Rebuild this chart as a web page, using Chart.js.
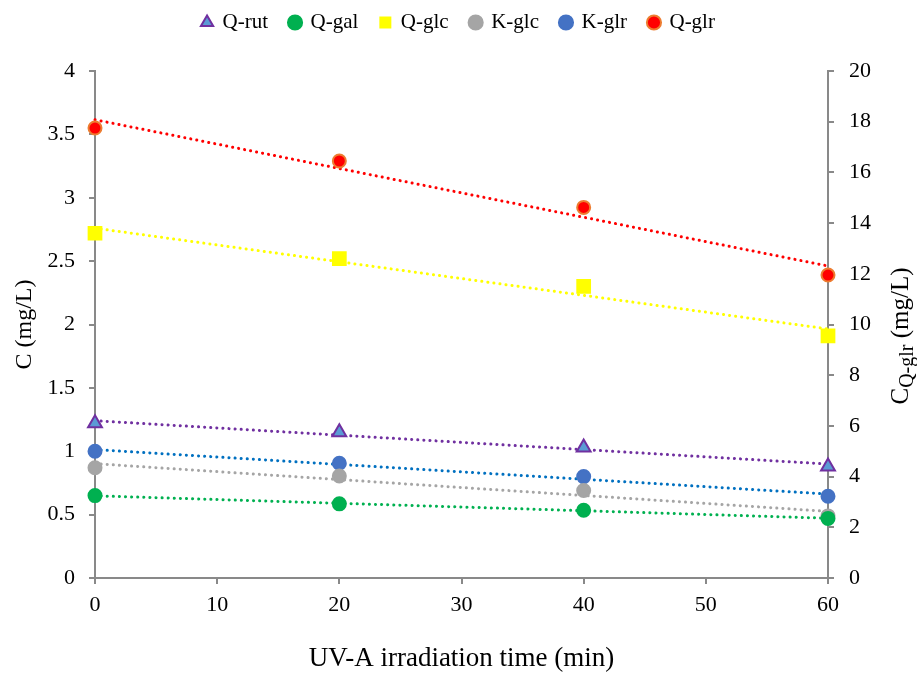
<!DOCTYPE html>
<html>
<head>
<meta charset="utf-8">
<script src="https://cdn.jsdelivr.net/npm/chart.js@4.4.0/dist/chart.umd.min.js"></script>
<style>
  html, body { margin: 0; padding: 0; background: #fff; }
  #wrap { width: 917px; height: 675px; }
</style>
</head>
<body>
<div id="wrap"><canvas id="uvChart" width="917" height="675"></canvas></div>
<script>
// irradiation times (min)
const times = [0, 20, 40, 60];

// concentrations (mg/L)
const qRut = [1.22, 1.15, 1.03, 0.88];
const qGal = [0.65, 0.585, 0.535, 0.47];
const qGlc = [2.72, 2.52, 2.30, 1.91];
const kGlc = [0.87, 0.805, 0.69, 0.49];
const kGlr = [1.0, 0.905, 0.80, 0.645];
const qGlr = [17.75, 16.45, 14.62, 11.95]; // right axis

const xTicks = [0, 10, 20, 30, 40, 50, 60];

const serif = "'Liberation Serif', 'Times New Roman', serif";

function pts(vals) {
	return times.map((t, i) => ({ x: t, y: vals[i] }));
}

// least squares line, drawn across 0..60 like the Excel trendline
function trend(vals) {
	const n = times.length;
	const mx = times.reduce((a, b) => a + b, 0) / n;
	const my = vals.reduce((a, b) => a + b, 0) / n;
	let sxy = 0, sxx = 0;
	for (let i = 0; i < n; i++) {
		sxy += (times[i] - mx) * (vals[i] - my);
		sxx += (times[i] - mx) * (times[i] - mx);
	}
	const b = sxy / sxx;
	const a = my - b * mx;
	return [{ x: times[0], y: a + b * times[0] }, { x: times[n - 1], y: a + b * times[n - 1] }];
}

function markers(label, vals, style, fill, stroke, radius, axis) {
	return {
		label: label,
		data: pts(vals),
		yAxisID: axis || "y",
		showLine: false,
		pointStyle: style,
		pointRadius: radius,
		pointHoverRadius: radius,
		backgroundColor: fill,
		borderColor: stroke,
		borderWidth: 2,
		clip: false,
		order: 0,
	};
}

function line(vals, color, axis) {
	return {
		label: "trend",
		data: trend(vals),
		yAxisID: axis || "y",
		showLine: true,
		pointRadius: 0,
		borderColor: color,
		borderWidth: 3,
		borderDash: [0.1, 6],
		borderCapStyle: "round",
		fill: false,
		clip: false,
		order: 1,
	};
}

// right axis title with subscript
const rightTitle = {
	id: "rightTitle",
	afterDraw(chart) {
		const c = chart.ctx;
		const big = "25px " + serif;
		const small = "20px " + serif;
		c.save();
		c.translate(908, 336);
		c.rotate(-Math.PI / 2);
		c.fillStyle = "#000";
		c.textBaseline = "alphabetic";
		c.font = big;
		const w1 = c.measureText("C").width;
		const w3 = c.measureText(" (mg/L)").width;
		c.font = small;
		const w2 = c.measureText("Q-glr").width;
		let x = -(w1 + w2 + w3) / 2;
		c.font = big;
		c.fillText("C", x, 0);
		x += w1;
		c.font = small;
		c.fillText("Q-glr", x, 5);
		x += w2;
		c.font = big;
		c.fillText(" (mg/L)", x, 0);
		c.restore();
	},
};

// extra room under the legend
const legendGap = {
	id: "legendGap",
	beforeInit(chart) {
		const fit = chart.legend.fit;
		chart.legend.fit = function () {
			fit.bind(chart.legend)();
			this.height += 28;
		};
	},
};

const axisGrey = "#898989";
const plain = (v) => String(v);
const tickFont = { family: serif, size: 22 };

new Chart(document.getElementById("uvChart").getContext("2d"), {
	type: "scatter",
	data: {
		datasets: [
			markers("Q-rut", qRut, "triangle", "#5B9BD5", "#7030A0", 8),
			markers("Q-gal", qGal, "circle", "#00B050", "#00B050", 6.5),
			markers("Q-glc", qGlc, "rect", "#FFFF00", "#FFFF00", 9),
			markers("K-glc", kGlc, "circle", "#A5A5A5", "#A5A5A5", 6.5),
			markers("K-glr", kGlr, "circle", "#4472C4", "#4472C4", 6.5),
			markers("Q-glr", qGlr, "circle", "#FF0000", "#ED7D31", 6.5, "y2"),
			line(qRut, "#7030A0"),
			line(qGal, "#00B050"),
			line(qGlc, "#FFFF00"),
			line(kGlc, "#A5A5A5"),
			line(kGlr, "#0070C0"),
			line(qGlr, "#FF0000", "y2"),
		],
	},
	options: {
		responsive: false,
		animation: false,
		layout: { padding: { top: -10, left: 0, right: 0, bottom: 0 } },
		plugins: {
			tooltip: { enabled: false },
			legend: {
				position: "top",
				labels: {
					usePointStyle: true,
					boxWidth: 10,
					boxHeight: 10,
					padding: 22,
					color: "#000",
					font: { family: serif, size: 21 },
					filter: (item) => item.text !== "trend",
				},
			},
		},
		scales: {
			x: {
				type: "linear",
				min: 0,
				max: 60,
				afterBuildTicks: (s) => { s.ticks = xTicks.map((v) => ({ value: v })); },
				afterFit: (s) => { s.height = 97; },
				grid: { display: true, drawOnChartArea: false, tickLength: 6, color: axisGrey, lineWidth: 2 },
				border: { color: axisGrey, width: 2 },
				ticks: { color: "#000", font: tickFont, padding: 8, callback: plain },
				title: {
					display: true,
					text: "UV-A irradiation time (min)",
					color: "#000",
					font: { family: serif, size: 27 },
					padding: { top: 10, bottom: 0 },
				},
			},
			y: {
				position: "left",
				min: 0,
				max: 4,
				ticks: { stepSize: 0.5, color: "#000", font: tickFont, padding: 14, callback: plain },
				afterFit: (s) => { s.width = 95; },
				grid: { display: true, drawOnChartArea: false, tickLength: 6, color: axisGrey, lineWidth: 2 },
				border: { color: axisGrey, width: 2 },
				title: {
					display: true,
					text: "C (mg/L)",
					color: "#000",
					font: { family: serif, size: 24 },
					padding: { top: 10, bottom: 10 },
				},
			},
			y2: {
				position: "right",
				min: 0,
				max: 20,
				ticks: { stepSize: 2, color: "#000", font: tickFont, padding: 15, callback: plain },
				afterFit: (s) => { s.width = 89; },
				grid: { display: true, drawOnChartArea: false, tickLength: 6, color: axisGrey, lineWidth: 2 },
				border: { color: axisGrey, width: 2 },
			},
		},
	},
	plugins: [rightTitle, legendGap],
});
</script>
</body>
</html>
